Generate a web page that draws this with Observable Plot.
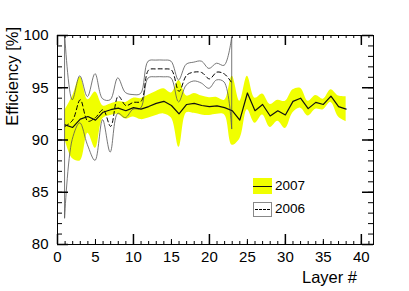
<!DOCTYPE html>
<html><head><meta charset="utf-8">
<script src="https://cdn.jsdelivr.net/npm/d3@7"></script>
<script src="https://cdn.jsdelivr.net/npm/@observablehq/plot@0.6"></script>
<style>
body{margin:0;background:#fff;}
#wrap{position:relative;width:409px;height:291px;font-family:"Liberation Sans",Arial,Helvetica,sans-serif;color:#000;}
.box{position:absolute;box-sizing:border-box;}
.lt{position:absolute;font-size:13.5px;line-height:16px;}
</style></head><body><div id="wrap"></div>
<script>
// ---- data ----
const layers2007 = [1,2,3,4,5,6,7,8,9,10,11,12,13,14,15,16,17,18,19,20,21,22,23,24,25,26,27,28,29,30,31,32,33,34,35,36,37,38];
const eff2007 = [91.45,91.2,92.0,92.25,91.9,92.66,92.9,93.05,92.8,93.1,92.95,93.2,93.5,93.7,93.3,92.5,93.4,93.5,93.3,93.2,93.27,93.1,92.8,91.9,94.5,92.8,93.4,92.3,92.8,92.4,93.7,94.0,93.0,93.6,93.4,94.2,93.2,92.95];
const err2007 = [1.4,3.0,4.0,1.6,2.7,0.6,0.55,0.6,0.8,0.9,1.0,1.1,1.15,1.2,1.2,3.2,0.8,0.95,0.9,0.85,0.8,0.7,3.3,1.8,1.6,1.2,1.0,1.1,1.0,1.3,1.1,0.95,0.7,0.65,0.5,0.6,1.0,1.2];
const layers2006 = [1,2,3,4,5,6,7,8,9,10,11,12,13,14,15,16,17,18,19,20,21,22,23];
const eff2006 = [91.3,91.9,93.85,91.8,92.15,92.9,91.3,94.2,93.3,93.6,93.7,96.7,96.8,96.8,96.7,94.65,96.2,96.5,96.45,95.85,96.5,96.3,95.4];
const err2006 = [8.8,1.9,2.25,2.3,4.15,1.0,2.5,1.7,1.2,0.7,0.7,0.8,0.8,0.8,0.8,1.05,1.0,0.9,1.05,0.95,0.8,0.8,4.4];
const xLabels = [0,5,10,15,20,25,30,35,40];
const yLabels = [80,85,90,95,100];
const seriesNames = ["2007","2006"];

// ---- layout ----
const W = 409, H = 291, mL = 57, mR = 36, mT = 35, mB = 47;
const fw = W - mL - mR, fh = H - mT - mB;
const yellow = "#f0ff00";

const d07 = layers2007.map((l,i)=>({layer:l, eff:eff2007[i], lo:eff2007[i]-err2007[i], hi:eff2007[i]+err2007[i]}));
const d06 = layers2006.map((l,i)=>({layer:l, eff:eff2006[i], lo:eff2006[i]-err2006[i], hi:eff2006[i]+err2006[i]}));

const xMinor = d3.range(0, 42, 1), xMid = d3.range(5, 42, 10), xMajor = d3.range(0, 42, 10);
const yMinor = d3.range(80, 100.1, 1), yMajor = d3.range(80, 100.1, 5);

const chart = Plot.plot({
  width: W, height: H, marginLeft: mL, marginRight: mR, marginTop: mT, marginBottom: mB,
  x: {domain: [0, 41.6]},
  y: {domain: [80, 100]},
  style: {fontFamily: '"Liberation Sans", Arial, Helvetica, sans-serif', fontSize: "15px", color: "#000", background: "#fff", overflow: "visible"},
  marks: [
    Plot.areaY(d07, {x: "layer", y1: "lo", y2: "hi", fill: yellow, curve: "catmull-rom", clip: true}),
    Plot.areaY(d06, {x: "layer", y1: "lo", y2: "hi", fill: "none", stroke: "#555", strokeWidth: 0.8, curve: "catmull-rom", clip: true}),
    Plot.line(d06, {x: "layer", y: "eff", stroke: "#000", strokeWidth: 1, strokeDasharray: "4,3", curve: "catmull-rom", clip: true}),
    Plot.line(d07, {x: "layer", y: "eff", stroke: "#111", strokeWidth: 1.2, clip: true}),
    // inward ticks, all four sides
    Plot.tickX(xMinor, {insetTop: fh - 3, stroke: "#000"}),
    Plot.tickX(xMinor, {insetBottom: fh - 3, stroke: "#000"}),
    Plot.tickX(xMid, {insetTop: fh - 5, stroke: "#000"}),
    Plot.tickX(xMid, {insetBottom: fh - 5, stroke: "#000"}),
    Plot.tickX(xMajor, {insetTop: fh - 10, stroke: "#000", strokeWidth: 1.5}),
    Plot.tickX(xMajor, {insetBottom: fh - 10, stroke: "#000", strokeWidth: 1.5}),
    Plot.tickY(yMinor, {insetRight: fw - 5, stroke: "#000"}),
    Plot.tickY(yMinor, {insetLeft: fw - 5, stroke: "#000"}),
    Plot.tickY(yMajor, {insetRight: fw - 11, stroke: "#000", strokeWidth: 1.5}),
    Plot.tickY(yMajor, {insetLeft: fw - 11, stroke: "#000", strokeWidth: 1.5}),
    Plot.frame({stroke: "#000", strokeWidth: 1}),
    Plot.axisX(xLabels, {tickSize: 0, tickPadding: 7, label: null, fontSize: 15}),
    Plot.axisY(yLabels, {tickSize: 0, tickPadding: 9, label: null, fontSize: 15})
  ]
});

const wrap = document.getElementById("wrap");
wrap.appendChild(chart);
const svg = d3.select(chart);
svg.append("text").attr("transform", "translate(18,27) rotate(-90)").attr("text-anchor", "end")
  .attr("font-size", 16.5).attr("fill", "#000").text("Efficiency [%]");
svg.append("text").attr("x", 357).attr("y", 283).attr("text-anchor", "end")
  .attr("font-size", 16.5).attr("fill", "#000").text("Layer #");

// legend
function addBox(left, top, w, h, css){ const d = document.createElement("div"); d.className = "box"; d.style.cssText = `left:${left}px;top:${top}px;width:${w}px;height:${h}px;` + css; wrap.appendChild(d); return d; }
function addText(left, top, t){ const d = document.createElement("div"); d.className = "lt"; d.style.left = left + "px"; d.style.top = top + "px"; d.textContent = t; wrap.appendChild(d); }
addBox(253, 178, 19, 16, `background:${yellow};`);
addBox(253, 185.5, 19, 1.3, "background:#111;");
addText(275, 178, seriesNames[0]);
addBox(253, 202, 19, 15, "border:1px solid #888;background:#fff;");
addBox(255, 209, 15, 1, "border-top:1px dashed #000;");
addText(275, 201, seriesNames[1]);
</script></body></html>
